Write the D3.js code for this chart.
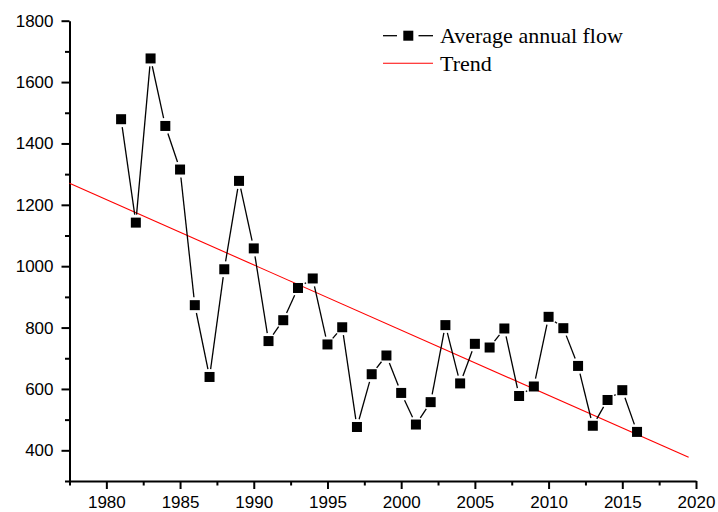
<!DOCTYPE html>
<html>
<head>
<meta charset="utf-8">
<script src="https://cdn.jsdelivr.net/npm/d3@7"></script>
<style>
  body { margin: 0; background: #fff; }
  svg { display: block; }
  .tick text { font-family: Arial, "Liberation Sans", sans-serif; }
</style>
</head>
<body>
<figure id="chart" style="margin:0"></figure>
<script>
// data
const years = [1981, 1982, 1983, 1984, 1985, 1986, 1987, 1988, 1989, 1990,
  1991, 1992, 1993, 1994, 1995, 1996, 1997, 1998, 1999, 2000,
  2001, 2002, 2003, 2004, 2005, 2006, 2007, 2008, 2009, 2010,
  2011, 2012, 2013, 2014, 2015, 2016];
const flow = [1479, 1142, 1677, 1457, 1315, 873, 639, 990, 1278, 1058,
  756, 824, 929, 960, 745, 801, 476, 648, 709, 587,
  484, 557, 808, 618, 747, 735, 797, 577, 608, 835,
  798, 675, 480, 564, 596, 460];
const trendYears = [1977.5, 2019.5];
const trendValues = [1270, 377];
const xTicks = [1980, 1985, 1990, 1995, 2000, 2005, 2010, 2015, 2020];
const xMinor = [1977.5, 1982.5, 1987.5, 1992.5, 1997.5, 2002.5, 2007.5, 2012.5, 2017.5];
const yTicks = [400, 600, 800, 1000, 1200, 1400, 1600, 1800];
const yMinor = [300, 500, 700, 900, 1100, 1300, 1500, 1700];
const legendLabels = ["Average annual flow", "Trend"];

const width = 718, height = 512;
const plotL = 69.5, plotR = 696, plotT = 20.7, plotB = 481;

const svg = d3.select("figure#chart")
  .append("svg")
  .attr("width", width)
  .attr("height", height);

const x = d3.scaleLinear().domain([1977.5, 2020]).range([plotL, plotR]);
const y = d3.scaleLinear().domain([300, 1800]).range([plotB, plotT]);

// minor ticks first, then the major axis on top
svg.append("g")
  .attr("transform", "translate(0," + plotB + ")")
  .call(d3.axisBottom(x).tickValues(xMinor).tickSize(4.5).tickFormat(""))
  .call(g => g.select(".domain").remove());
svg.append("g")
  .attr("transform", "translate(" + plotL + ",0)")
  .call(d3.axisLeft(y).tickValues(yMinor).tickSize(4.5).tickFormat(""))
  .call(g => g.select(".domain").remove());

const xAxis = svg.append("g")
  .attr("transform", "translate(0," + plotB + ")")
  .call(d3.axisBottom(x).tickValues(xTicks).tickSize(8).tickSizeOuter(0).tickPadding(7).tickFormat(d3.format("d")));
xAxis.selectAll("text").style("font-size", "17px").attr("fill", "#000");

const yAxis = svg.append("g")
  .attr("transform", "translate(" + plotL + ",0)")
  .call(d3.axisLeft(y).tickValues(yTicks).tickSize(8).tickSizeOuter(0).tickPadding(8).tickFormat(d3.format("d")));
yAxis.selectAll("text").style("font-size", "17px").attr("fill", "#000");

svg.selectAll(".domain, .tick line").attr("stroke", "#000").attr("stroke-width", 2);

// trend line
svg.append("path")
  .datum(trendYears.map((d, i) => [d, trendValues[i]]))
  .attr("fill", "none")
  .attr("stroke", "#ff0000")
  .attr("stroke-width", 1.1)
  .attr("d", d3.line().x(d => x(d[0])).y(d => y(d[1])));

// connecting segments, with a small gap around each marker
const gap = 8;
const pts = years.map((d, i) => [x(d), y(flow[i])]);
const segs = d3.pairs(pts).map(([a, b]) => {
  const dx = b[0] - a[0], dy = b[1] - a[1];
  const len = Math.hypot(dx, dy);
  const ux = dx / len, uy = dy / len;
  return [a[0] + ux * gap, a[1] + uy * gap, b[0] - ux * gap, b[1] - uy * gap, len];
}).filter(s => s[4] > gap * 2);

svg.selectAll("line.seg")
  .data(segs)
  .enter()
  .append("line")
  .attr("class", "seg")
  .attr("x1", d => d[0]).attr("y1", d => d[1])
  .attr("x2", d => d[2]).attr("y2", d => d[3])
  .attr("stroke", "#000")
  .attr("stroke-width", 1.3);

const ms = 10;
svg.selectAll("rect.pt")
  .data(years)
  .enter()
  .append("rect")
  .attr("class", "pt")
  .attr("x", (d) => x(d) - ms / 2)
  .attr("y", (d, i) => y(flow[i]) - ms / 2)
  .attr("width", ms)
  .attr("height", ms)
  .attr("fill", "#000");

// legend
const lg = svg.append("g");
lg.append("line").attr("x1", 383).attr("x2", 397).attr("y1", 35.7).attr("y2", 35.7)
  .attr("stroke", "#000").attr("stroke-width", 1.3);
lg.append("line").attr("x1", 418.5).attr("x2", 433).attr("y1", 35.7).attr("y2", 35.7)
  .attr("stroke", "#000").attr("stroke-width", 1.3);
lg.append("rect").attr("x", 403.3).attr("y", 30.7).attr("width", ms).attr("height", ms).attr("fill", "#000");
lg.append("line").attr("x1", 383).attr("x2", 433).attr("y1", 63.3).attr("y2", 63.3)
  .attr("stroke", "#ff0000").attr("stroke-width", 1.1);

lg.selectAll("text")
  .data(legendLabels)
  .enter()
  .append("text")
  .attr("x", 440)
  .attr("y", (d, i) => 42.5 + i * 28)
  .style("font-family", "'Times New Roman', 'Liberation Serif', serif")
  .style("font-size", "22px")
  .attr("fill", "#000")
  .text(d => d);
</script>
</body>
</html>
